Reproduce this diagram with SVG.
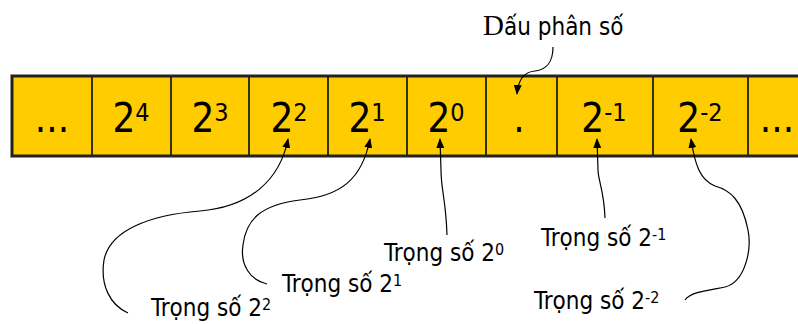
<svg xmlns="http://www.w3.org/2000/svg" width="798" height="324" viewBox="0 0 798 324">
<style>
.big{font-family:"DejaVu Sans Condensed","DejaVu Sans",sans-serif;font-size:40px;fill:#000;text-anchor:middle}
.sup{font-size:25px}
.lbl{font-family:"DejaVu Sans Condensed","DejaVu Sans",sans-serif;font-size:24px;fill:#000}
.lsup{font-size:16px}
.con{fill:none;stroke:#000;stroke-width:1.2}
</style>
<defs>
<marker id="ah" markerUnits="userSpaceOnUse" markerWidth="10" markerHeight="8" refX="9" refY="4" orient="auto">
<path d="M0,0 L10,4 L0,8 z" fill="#000"/>
</marker>
</defs>
<rect x="0" y="0" width="798" height="324" fill="#fff"/>
<g id="strip">
<rect x="12" y="76" width="800" height="80" fill="#FFCC00"/>
<g stroke="#333300" stroke-width="2">
<line x1="92" y1="76" x2="92" y2="156"/>
<line x1="171" y1="76" x2="171" y2="156"/>
<line x1="249" y1="76" x2="249" y2="156"/>
<line x1="328" y1="76" x2="328" y2="156"/>
<line x1="407" y1="76" x2="407" y2="156"/>
<line x1="486" y1="76" x2="486" y2="156"/>
<line x1="557" y1="76" x2="557" y2="156"/>
<line x1="653" y1="76" x2="653" y2="156"/>
<line x1="748" y1="76" x2="748" y2="156"/>
</g>
<path d="M800,76 H12 V156 H800" fill="none" stroke="#222" stroke-width="3"/>
</g>
<g id="c1"><text class="big" x="52" y="132">...</text></g>
<g id="c2"><text class="big" x="131" y="132">2<tspan class="sup" dy="-11">4</tspan></text></g>
<g id="c3"><text class="big" x="210" y="132">2<tspan class="sup" dy="-11">3</tspan></text></g>
<g id="c4"><text class="big" x="289" y="132">2<tspan class="sup" dy="-11">2</tspan></text></g>
<g id="c5"><text class="big" x="367" y="132">2<tspan class="sup" dy="-11">1</tspan></text></g>
<g id="c6"><text class="big" x="446" y="132">2<tspan class="sup" dy="-11">0</tspan></text></g>
<g id="c7"><text class="big" x="519" y="132">.</text></g>
<g id="c8"><text class="big" x="604" y="132">2<tspan class="sup" dy="-11">-1</tspan></text></g>
<g id="c9"><text class="big" x="700" y="132">2<tspan class="sup" dy="-11">-2</tspan></text></g>
<g id="c10"><text class="big" x="777" y="132">...</text></g>
<g id="lbl-dau"><text class="lbl" x="483" y="35" font-size="25px"><tspan font-family="Liberation Serif,serif" font-size="29px">D</tspan>ấu phân số</text></g>
<g id="lbl-2"><text class="lbl" x="151" y="316">Trọng số 2<tspan class="lsup" dy="-6">2</tspan></text></g>
<g id="lbl-1"><text class="lbl" x="282" y="292">Trọng số 2<tspan class="lsup" dy="-6">1</tspan></text></g>
<g id="lbl-0"><text class="lbl" x="384" y="261">Trọng số 2<tspan class="lsup" dy="-6">0</tspan></text></g>
<g id="lbl-m1"><text class="lbl" x="541" y="246">Trọng số 2<tspan class="lsup" dy="-6">-1</tspan></text></g>
<g id="lbl-m2"><text class="lbl" x="534" y="309">Trọng số 2<tspan class="lsup" dy="-6">-2</tspan></text></g>
<g id="connectors">
<path class="con" marker-end="url(#ah)" d="M553,47 C553,62 546,70 535,71 C522,72 518,82 517,94"/>
<path class="con" marker-end="url(#ah)" d="M128,313 C110,305 100,285 104,260 C110,230 150,215 200,211 C250,207 280,180 288,139"/>
<path class="con" marker-end="url(#ah)" d="M267,284 C250,280 240,265 243,245 C246,220 260,205 300,200 C340,196 362,180 370,139"/>
<path class="con" marker-end="url(#ah)" d="M447,235 C446,200 441,190 441,170 L440,139"/>
<path class="con" marker-end="url(#ah)" d="M605,218 C604,190 598,180 598,170 L597,139"/>
<path class="con" marker-end="url(#ah)" d="M685,300 C690,292 710,290 725,287 C745,282 752,250 748,230 C742,200 730,190 715,186 C700,180 695,165 691,139"/>
</g>
</svg>
